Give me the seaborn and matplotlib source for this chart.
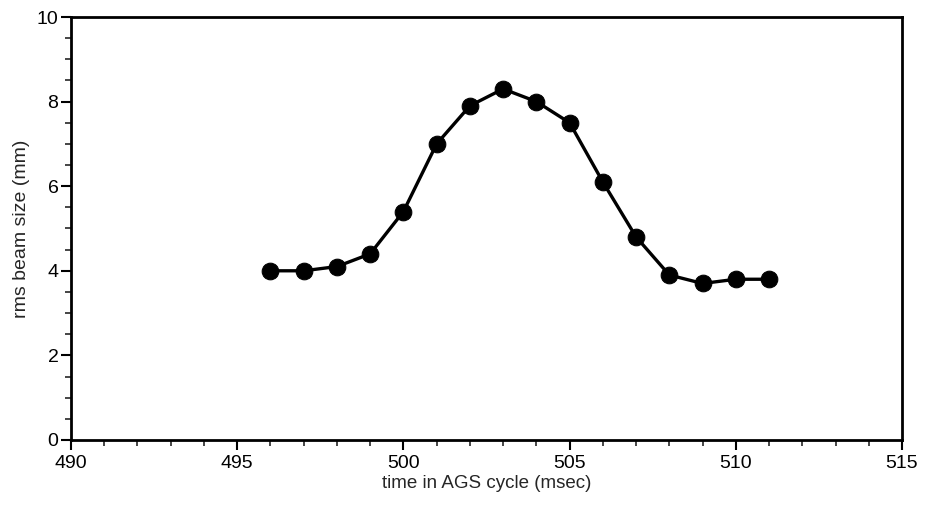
import numpy as np
import pandas as pd
import matplotlib.pyplot as plt
import seaborn as sns
from matplotlib.ticker import MultipleLocator

# data
time_ms = [496, 497, 498, 499, 500, 501, 502, 503, 504, 505, 506, 507, 508, 509, 510, 511]
beam_size = [4.0, 4.0, 4.1, 4.4, 5.4, 7.0, 7.9, 8.3, 8.0, 7.5, 6.1, 4.8, 3.9, 3.7, 3.8, 3.8]

df = pd.DataFrame({'time': time_ms, 'size': beam_size})

sns.set_style('ticks')
plt.rcParams['font.family'] = ['Liberation Sans', 'DejaVu Sans']

fig = plt.figure(figsize=(9.28, 5.09), dpi=100)
ax = fig.add_axes([0.0765, 0.1356, 0.8955, 0.831])

sns.lineplot(data=df, x='time', y='size', ax=ax, color='black', linewidth=2.4,
             marker='o', markersize=12, markeredgecolor='black', markerfacecolor='black')

ax.set_xlim(490, 515)
ax.set_ylim(0, 10)
ax.xaxis.set_major_locator(MultipleLocator(5))
ax.xaxis.set_minor_locator(MultipleLocator(1))
ax.yaxis.set_major_locator(MultipleLocator(2))
ax.yaxis.set_minor_locator(MultipleLocator(0.5))
ax.tick_params(which='major', direction='out', length=7, width=1.5, labelsize=14, colors='black', pad=2)
ax.tick_params(axis='x', which='major', pad=4)
ax.tick_params(which='minor', direction='out', length=4, width=1.2)
ax.tick_params(top=False, right=False, which='both')
for sp in ax.spines.values():
    sp.set_linewidth(2)
    sp.set_color('black')

ax.set_xlabel('time in AGS cycle (msec)', fontsize=13.5, labelpad=2)
ax.set_ylabel('rms beam size (mm)', fontsize=14, labelpad=5)

fig.savefig('out.png', dpi=100)
